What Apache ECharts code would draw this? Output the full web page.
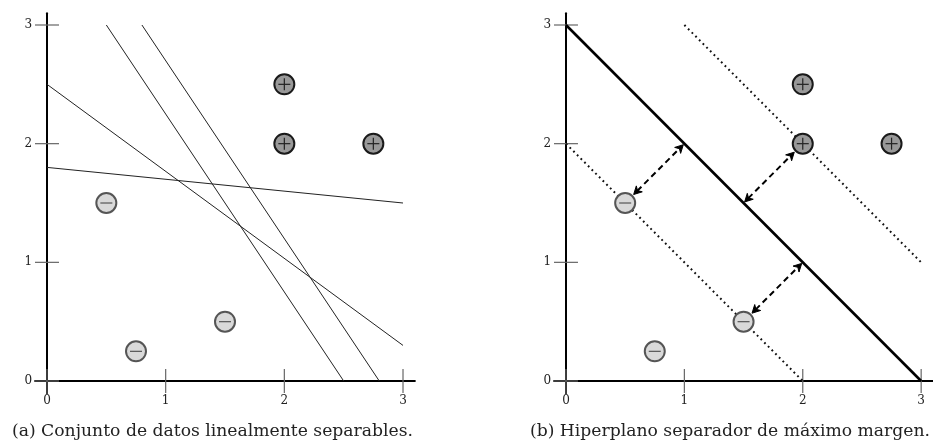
<!DOCTYPE html>
<html><head><meta charset="utf-8">
<script src="https://cdn.jsdelivr.net/npm/echarts@6/dist/echarts.min.js"></script>
<style>html,body{margin:0;padding:0;background:#fff}#c{width:933px;height:447px}</style>
</head><body><div id="c"></div>
<script>
// ---- data ----
const tickValues = [0, 1, 2, 3];
const tickLabels = ['0', '1', '2', '3'];
const positivePoints = [[2, 2.5], [2, 2], [2.75, 2]];
const negativePoints = [[0.5, 1.5], [0.75, 0.25], [1.5, 0.5]];
const candidateLines = [
  [[0, 2.5], [3, 0.3]],
  [[0, 1.8], [3, 1.5]],
  [[0.5, 3], [2.5, 0]],
  [[0.8, 3], [2.8, 0]]
];
const hyperplane = [[0, 3], [3, 0]];
const marginLines = [[[1, 3], [3, 1]], [[0, 2], [2, 0]]];
const marginArrows = [
  [[0.5, 1.5], [1, 2]],
  [[1.5, 1.5], [2, 2]],
  [[1.5, 0.5], [2, 1]]
];
const captions = ['(a) Conjunto de datos linealmente separables.', '(b) Hiperplano separador de máximo margen.'];

// ---- chart ----
const FONT = 'DejaVu Serif';
const chart = echarts.init(document.getElementById('c'), null, {renderer: 'canvas'});
const U = 118.67, PAD = 0.1;
const gridW = (3 + 2 * PAD) * U;

function fmt(v) { return tickLabels[tickValues.indexOf(Math.round(v))] || ''; }
function axisX(gi) {
  return {
    gridIndex: gi, type: 'value', min: -PAD, max: 3 + PAD,
    axisLine: {onZero: true, lineStyle: {color: '#000', width: 2}},
    axisTick: {show: false}, splitLine: {show: false},
    axisLabel: {customValues: tickValues, margin: 2, fontFamily: FONT, fontSize: 12, color: '#222', formatter: fmt}
  };
}
function axisY(gi) {
  return {
    gridIndex: gi, type: 'value', min: -PAD, max: 3 + PAD,
    axisLine: {onZero: true, lineStyle: {color: '#000', width: 2}},
    axisTick: {show: false}, splitLine: {show: false},
    axisLabel: {customValues: tickValues, margin: 3, fontFamily: FONT, fontSize: 12, color: '#222', formatter: fmt}
  };
}

function tickSeries(gi) {
  const data = [];
  tickValues.forEach(v => { data.push([v, 0, 0]); data.push([0, v, 1]); });
  return {
    type: 'custom', xAxisIndex: gi, yAxisIndex: gi, silent: true, z: 1,
    data: data,
    renderItem: (params, api) => {
      const p = api.coord([api.value(0), api.value(1)]);
      const horiz = api.value(2) === 1;
      const L = 12;
      return {
        type: 'line',
        shape: horiz ? {x1: p[0] - L, y1: p[1], x2: p[0] + L, y2: p[1]} : {x1: p[0], y1: p[1] - L, x2: p[0], y2: p[1] + L},
        style: {stroke: '#666', lineWidth: 1.2}
      };
    }
  };
}

function pointSeries(gi, pts, positive) {
  return {
    type: 'custom', xAxisIndex: gi, yAxisIndex: gi, silent: true, z: 10,
    data: pts,
    renderItem: (params, api) => {
      const p = api.coord([api.value(0), api.value(1)]);
      const r = 10, s = 6;
      const children = [{
        type: 'circle', shape: {cx: p[0], cy: p[1], r: r},
        style: {fill: positive ? '#999999' : '#d9d9d9', stroke: positive ? '#1a1a1a' : '#555555', lineWidth: 2}
      }, {
        type: 'line', shape: {x1: p[0] - s, y1: p[1], x2: p[0] + s, y2: p[1]},
        style: {stroke: positive ? '#222' : '#555', lineWidth: 1.2}
      }];
      if (positive) children.push({
        type: 'line', shape: {x1: p[0], y1: p[1] - s, x2: p[0], y2: p[1] + s},
        style: {stroke: '#222', lineWidth: 1.2}
      });
      return {type: 'group', children: children};
    }
  };
}

function lineSeries(gi, seg, style) {
  return {
    type: 'line', xAxisIndex: gi, yAxisIndex: gi, silent: true, z: 5,
    data: seg, showSymbol: false, symbol: 'none', lineStyle: style
  };
}

const allPoints = positivePoints.concat(negativePoints);
function isPoint(q) { return allPoints.some(p => p[0] === q[0] && p[1] === q[1]); }

const arrowSeries = {
  type: 'custom', xAxisIndex: 1, yAxisIndex: 1, silent: true, z: 8,
  data: marginArrows.map(a => [a[0][0], a[0][1], a[1][0], a[1][1]]),
  renderItem: (params, api) => {
    const a0 = [api.value(0), api.value(1)], a1 = [api.value(2), api.value(3)];
    let p0 = api.coord(a0), p1 = api.coord(a1);
    const dx = p1[0] - p0[0], dy = p1[1] - p0[1];
    const len = Math.sqrt(dx * dx + dy * dy);
    const ux = dx / len, uy = dy / len;
    const g0 = isPoint(a0) ? 12 : 1.5, g1 = isPoint(a1) ? 12 : 1.5;
    p0 = [p0[0] + ux * g0, p0[1] + uy * g0];
    p1 = [p1[0] - ux * g1, p1[1] - uy * g1];
    const head = (tip, dirx, diry) => {
      const h = 8, w = 4.2, n = 5.5;
      const bx = tip[0] - dirx * h, by = tip[1] - diry * h;
      const cx = tip[0] - dirx * n, cy = tip[1] - diry * n;
      const nx = -diry, ny = dirx;
      return {
        type: 'polygon',
        shape: {points: [tip, [bx + nx * w, by + ny * w], [cx, cy], [bx - nx * w, by - ny * w]]},
        style: {stroke: '#000', lineWidth: 1, fill: '#000', lineJoin: 'miter'}
      };
    };
    return {type: 'group', children: [
      {type: 'line', shape: {x1: p0[0] + ux * 5, y1: p0[1] + uy * 5, x2: p1[0] - ux * 5, y2: p1[1] - uy * 5},
        style: {stroke: '#000', lineWidth: 2, lineDash: [6, 4]}},
      head(p0, -ux, -uy),
      head(p1, ux, uy)
    ]};
  }
};

const series = [tickSeries(0), tickSeries(1)];
candidateLines.forEach(seg => series.push(lineSeries(0, seg, {color: '#222', width: 1})));
series.push(lineSeries(1, hyperplane, {color: '#000', width: 2.6}));
marginLines.forEach(seg => series.push(lineSeries(1, seg, {color: '#111', width: 2, type: [1.8, 3.4]})));
series.push(arrowSeries);
[0, 1].forEach(gi => {
  series.push(pointSeries(gi, positivePoints, true));
  series.push(pointSeries(gi, negativePoints, false));
});

chart.setOption({
  animation: false,
  backgroundColor: '#fff',
  grid: [
    {left: 47 - PAD * U, top: 25 - PAD * U, width: gridW, height: gridW},
    {left: 566 - PAD * U, top: 25 - PAD * U, width: gridW, height: gridW}
  ],
  xAxis: [axisX(0), axisX(1)],
  yAxis: [axisY(0), axisY(1)],
  graphic: [
    {type: 'text', left: 12, top: 423, style: {text: captions[0], font: '17.2px "' + FONT + '"', fill: '#222'}},
    {type: 'text', right: 3, top: 423, style: {text: captions[1], font: '17.2px "' + FONT + '"', fill: '#222'}}
  ],
  series: series
});
</script>
</body></html>
